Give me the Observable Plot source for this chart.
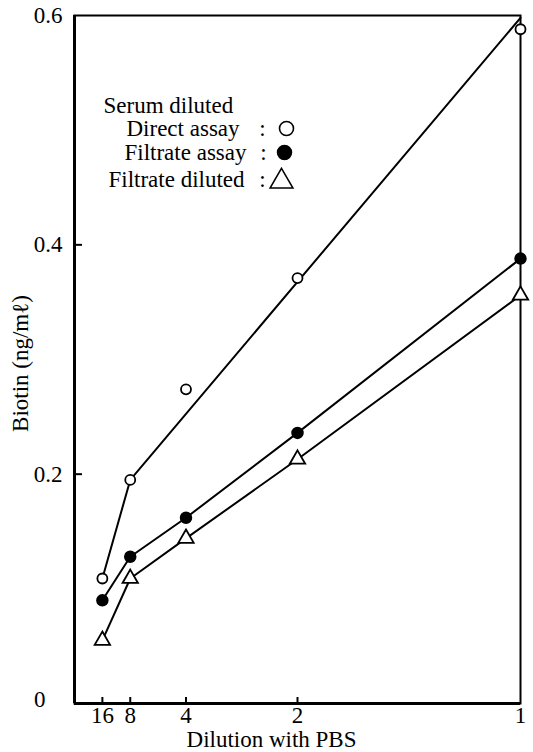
<!DOCTYPE html>
<html>
<head>
<meta charset="utf-8">
<script src="https://cdn.jsdelivr.net/npm/d3@7"></script>
<script src="https://cdn.jsdelivr.net/npm/@observablehq/plot@0.6"></script>
<style>
  html, body { margin: 0; padding: 0; background: #fff; }
  #chart svg { display: block; background: #fff; }
  #chart svg, #chart svg text { font-family: "Liberation Serif", "DejaVu Serif", serif !important; }
</style>
</head>
<body>
<div id="chart"></div>
<script>
// ---- data ----
const dilutions = [16, 8, 4, 2, 1];
const directAssay = [0.109, 0.195, 0.274, 0.371, 0.588];
const filtrateAssay = [0.090, 0.128, 0.162, 0.236, 0.388];
const filtrateDiluted = [0.055, 0.109, 0.144, 0.213, 0.356];
// fitted line drawn for the direct assay (passes 16, 8 then straight to 1)
const directFitDilutions = [16, 8, 1];
const directFitValues = [0.109, 0.195, 0.598];

const xTickValues = [16, 8, 4, 2, 1];
const xTickLabels = ["16", "8", "4", "2", "1"];
const yTickValues = [0, 0.2, 0.4, 0.6];
const yTickLabels = ["0", "0.2", "0.4", "0.6"];

const xTitle = "Dilution with PBS";
const yTitle = "Biotin (ng/mℓ)";
const legendHeader = "Serum diluted";
const legendLabels = ["Direct assay", "Filtrate assay", "Filtrate diluted"];

// ---- build table ----
const rows = (vals, series) => dilutions.map((d, i) => ({dil: d, x: 1 / d, y: vals[i], series}));
const direct = rows(directAssay, "direct");
const filtA = rows(filtrateAssay, "filtA");
const filtD = rows(filtrateDiluted, "filtD");
const directFit = directFitDilutions.map((d, i) => ({x: 1 / d, y: directFitValues[i]}));

const FS = 23;
const W = 533, H = 752;
const mL = 74, mR = 13, mT = 15, mB = 49;
const frameW = W - mL - mR, frameH = H - mT - mB;

const yLabelOf = v => yTickLabels[yTickValues.indexOf(v)];
const xLabelOf = v => xTickLabels[xTickValues.indexOf(Math.round(1 / v))];

const txt = {fontSize: FS, fill: "#000"};

const chart = Plot.plot({
  width: W,
  height: H,
  marginLeft: mL,
  marginRight: mR,
  marginTop: mT,
  marginBottom: mB,
  style: {fontSize: FS + "px", color: "#000", background: "#fff"},
  x: {type: "linear", domain: [0, 1]},
  y: {type: "linear", domain: [0, 0.6]},
  marks: [
    // frame
    Plot.frame({stroke: "#000", strokeWidth: 2}),
    Plot.ruleX([0], {stroke: "#000", strokeWidth: 3}),
    Plot.ruleY([0], {stroke: "#000", strokeWidth: 3}),
    // inward ticks
    Plot.ruleX(xTickValues.slice(0, 4), {x: d => 1 / d, insetTop: frameH - 6, stroke: "#000", strokeWidth: 2}),
    Plot.ruleY([0.2, 0.4], {y: d => d, insetRight: frameW - 8, stroke: "#000", strokeWidth: 2}),
    // axes labels
    Plot.axisX(xTickValues.map(d => 1 / d), {tickSize: 0, tickPadding: 3, tickFormat: xLabelOf, ...txt, label: null}),
    Plot.axisY([0.2, 0.4, 0.6], {tickSize: 0, tickPadding: 12, tickFormat: yLabelOf, ...txt, label: null}),
    Plot.axisY([0], {tickSize: 0, tickPadding: 29, tickFormat: yLabelOf, ...txt, label: null, dy: -4}),
    Plot.text([xTitle], {frameAnchor: "bottom", dx: -26, dy: 36, textAnchor: "middle", lineAnchor: "middle", ...txt}),
    Plot.text([yTitle], {frameAnchor: "left", rotate: -90, dx: -54, dy: 4, textAnchor: "middle", lineAnchor: "middle", ...txt}),
    // lines
    Plot.line(directFit, {x: "x", y: "y", stroke: "#000", strokeWidth: 2}),
    Plot.line(filtA, {x: "x", y: "y", stroke: "#000", strokeWidth: 2}),
    Plot.line(filtD, {x: "x", y: "y", stroke: "#000", strokeWidth: 2}),
    // points
    Plot.dot(direct, {x: "x", y: "y", r: 5, fill: "#fff", stroke: "#000", strokeWidth: 1.8}),
    Plot.dot(filtA, {x: "x", y: "y", r: 5.5, fill: "#000", stroke: "#000"}),
    Plot.dot(filtD, {x: "x", y: "y", r: 5.7, symbol: "triangle", fill: "#fff", stroke: "#000", strokeWidth: 1.8}),
    // legend
    Plot.text([legendHeader], {frameAnchor: "top-left", dx: 29, dy: 90, textAnchor: "start", lineAnchor: "middle", ...txt}),
    Plot.text([legendLabels[0]], {frameAnchor: "top-left", dx: 52, dy: 113, textAnchor: "start", lineAnchor: "middle", ...txt}),
    Plot.text([legendLabels[1]], {frameAnchor: "top-left", dx: 50, dy: 137, textAnchor: "start", lineAnchor: "middle", ...txt}),
    Plot.text([legendLabels[2]], {frameAnchor: "top-left", dx: 34, dy: 164, textAnchor: "start", lineAnchor: "middle", ...txt}),
    Plot.text([":"], {frameAnchor: "top-left", dx: 188, dy: 113, textAnchor: "middle", lineAnchor: "middle", ...txt}),
    Plot.text([":"], {frameAnchor: "top-left", dx: 189, dy: 137, textAnchor: "middle", lineAnchor: "middle", ...txt}),
    Plot.text([":"], {frameAnchor: "top-left", dx: 188, dy: 164, textAnchor: "middle", lineAnchor: "middle", ...txt}),
    Plot.dot([legendLabels[0]], {frameAnchor: "top-left", dx: 212, dy: 113, r: 7, fill: "#fff", stroke: "#000", strokeWidth: 1.6}),
    Plot.dot([legendLabels[1]], {frameAnchor: "top-left", dx: 210, dy: 137, r: 7, fill: "#000", stroke: "#000"}),
    Plot.dot([legendLabels[2]], {frameAnchor: "top-left", dx: 207, dy: 166, r: 8.5, symbol: "triangle", fill: "#fff", stroke: "#000", strokeWidth: 1.5})
  ]
});
document.getElementById("chart").append(chart);
</script>
</body>
</html>
